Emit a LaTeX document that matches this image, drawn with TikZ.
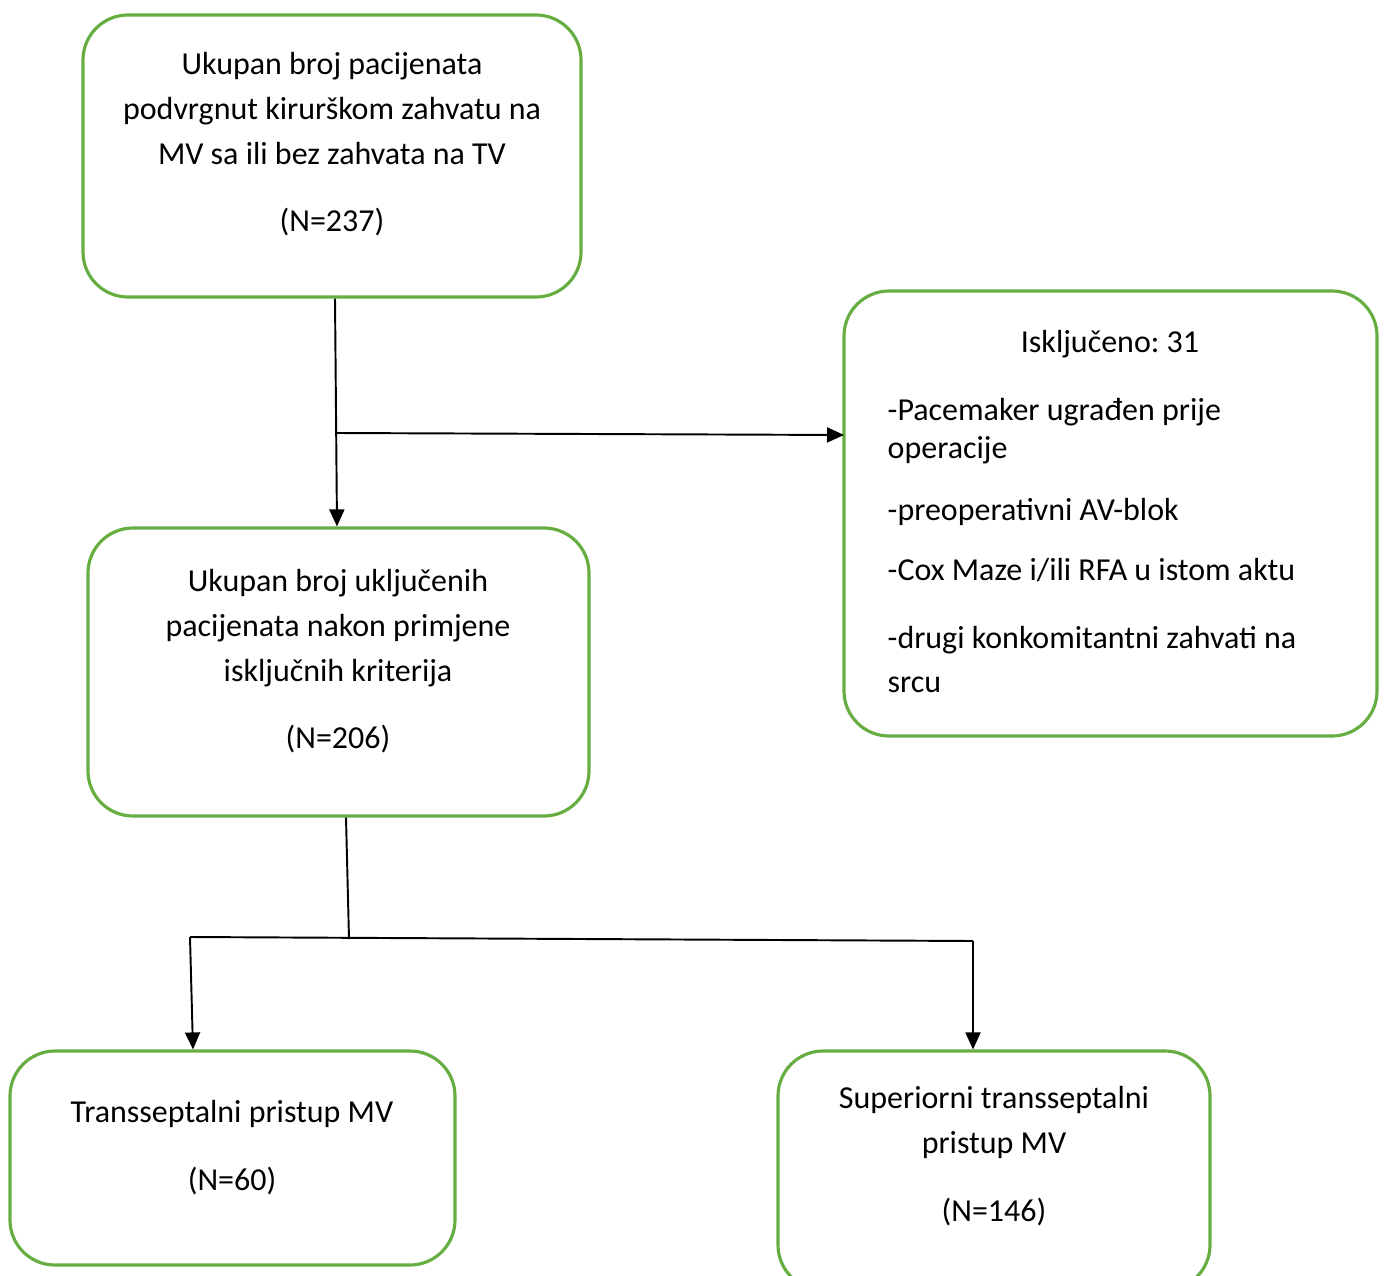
\documentclass[tikz,border=0pt]{standalone}
\usepackage{fontspec}
\setmainfont{Carlito}
\usetikzlibrary{arrows.meta}
\definecolor{boxgreen}{RGB}{102,174,66}
\frenchspacing

\begin{document}
\begin{tikzpicture}[
    box/.style={draw=boxgreen, line width=0.9pt, rounded corners=0.45cm, inner sep=0pt},
    txt/.style={font=\fontsize{9.1}{12}\selectfont, inner sep=0pt, anchor=base},
    ltxt/.style={txt, anchor=base west},
    arr/.style={-{Triangle[length=0.17cm,width=0.15cm]}, line width=0.55pt}
  ]
          \useasboundingbox (0,0) rectangle (13.86,12.75);

          % Boxes
          \node[box, minimum width=4.98cm, minimum height=2.82cm] (total) at (3.32,11.19) {};
          \node[box, minimum width=5.33cm, minimum height=4.45cm] (excl) at (11.105,7.615) {};
          \node[box, minimum width=5.01cm, minimum height=2.88cm] (incl) at (3.385,6.03) {};
          \node[box, minimum width=4.45cm, minimum height=2.14cm] (trans) at (2.325,1.17) {};
          \node[box, minimum width=4.32cm, minimum height=2.39cm] (suptrans) at (9.94,1.045) {};

          % Top box
          \node[txt] (total1) at (3.32,12.00) {Ukupan broj pacijenata};
          \node[txt] (total2) at (3.32,11.55) {podvrgnut kirurškom zahvatu na};
          \node[txt] (total3) at (3.32,11.10) {MV sa ili bez zahvata na TV};
          \node[txt] (totaln) at (3.32,10.43) {(N=237)};

          % Excluded
          \node[txt] (excl0) at (11.10,9.22) {Isključeno: 31};
          \node[ltxt] (excl1) at (8.87,8.55) {-Pacemaker ugrađen prije};
          \node[ltxt] (excl2) at (8.87,8.17) {operacije};
          \node[ltxt] (excl3) at (8.87,7.55) {-preoperativni AV-blok};
          \node[ltxt] (excl4) at (8.87,6.95) {-Cox Maze i/ili RFA u istom aktu};
          \node[ltxt] (excl5) at (8.87,6.27) {-drugi konkomitantni zahvati na};
          \node[ltxt] (excl6) at (8.87,5.83) {srcu};

          % Included
          \node[txt] (incl1) at (3.38,6.84) {Ukupan broj uključenih};
          \node[txt] (incl2) at (3.38,6.39) {pacijenata nakon primjene};
          \node[txt] (incl3) at (3.38,5.94) {isključnih kriterija};
          \node[txt] (incln) at (3.38,5.27) {(N=206)};

          % Groups
          \node[txt] (trans1) at (2.32,1.53) {Transseptalni pristup MV};
          \node[txt] (transn) at (2.32,0.85) {(N=60)};
          \node[txt] (sup1) at (9.94,1.67) {Superiorni transseptalni};
          \node[txt] (sup2) at (9.94,1.22) {pristup MV};
          \node[txt] (supn) at (9.94,0.54) {(N=146)};

          % Connectors
          \coordinate (split1) at (3.36,8.42);
          \coordinate (exclin) at (8.44,8.40);
          \coordinate (split2) at (3.49,3.36);
          \coordinate (leftend) at (1.90,3.38);
          \coordinate (rightend) at (9.73,3.34);

          \draw[arr] ([xshift=0.03cm]total.south) -- ([xshift=-0.015cm]incl.north);
          \draw[arr] (split1) -- (exclin);
          \draw[line width=0.55pt] ([xshift=0.075cm]incl.south) -- (split2);
          \draw[line width=0.55pt] (leftend) -- (rightend);
          \draw[arr] (leftend) -- ([xshift=0.03cm]leftend |- trans.north);
          \draw[arr] (rightend) -- (rightend |- suptrans.north);
        \end{tikzpicture}
\end{document}
